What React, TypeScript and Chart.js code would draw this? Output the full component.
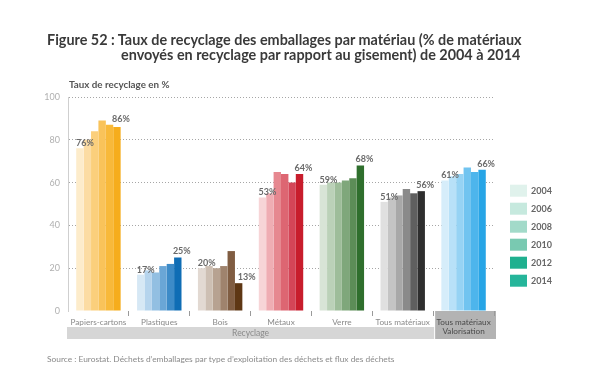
import React, { useEffect, useRef } from 'react';
import { Chart, registerables } from 'chart.js';

Chart.register(...registerables);

const categories: (string | string[])[] = [
  'Papiers-cartons',
  'Plastiques',
  'Bois',
  'Métaux',
  'Verre',
  'Tous matériaux',
  ['Tous matériaux', 'Valorisation'],
];
const years = ['2004', '2006', '2008', '2010', '2012', '2014'];
const v2004 = [76, 17, 20, 53, 59, 51, 61];
const v2006 = [80, 19, 21, 55, 60, 53, 63];
const v2008 = [84, 18, 20, 65, 60, 54, 64];
const v2010 = [89, 21, 21, 64, 61, 57, 67];
const v2012 = [87, 22, 28, 60, 62, 55, 65];
const v2014 = [86, 25, 13, 64, 68, 56, 66];
const yTicks = [0, 20, 40, 60, 80, 100];
const groupLabel = 'Recyclage';
const title1 = 'Figure 52 : Taux de recyclage des emballages par matériau (% de matériaux';
const title2 = 'envoyés en recyclage par rapport au gisement) de 2004 à 2014';
const yTitle = 'Taux de recyclage en %';
const source = "Source : Eurostat. Déchets d’emballages par type d’exploitation des déchets et flux des déchets";

const seriesValues = [v2004, v2006, v2008, v2010, v2012, v2014];

// colour ramps per category, 2004 -> 2014
const palettes = [
  ['#fdeccb', '#fcdca3', '#fbcf7c', '#f9c35a', '#f8b93a', '#f6ad1c'],
  ['#d6e8f5', '#b5d4ed', '#92bfe2', '#6aa6d6', '#3d8bc8', '#0f6db5'],
  ['#e2d9d2', '#cdbfb3', '#b7a291', '#9f836d', '#805d42', '#5e3714'],
  ['#f7d5d7', '#efadb3', '#e68890', '#dd6672', '#d44557', '#c81d2c'],
  ['#d8e4d6', '#bbd1b8', '#9ebd9a', '#7fa77b', '#5c8d57', '#2f6f2d'],
  ['#e0e0e0', '#c4c4c4', '#a8a8a8', '#8a8a8a', '#5f5f5f', '#2e2e2e'],
  ['#d6edfa', '#b8e1f8', '#96d3f4', '#71c4f0', '#4db5ec', '#27a5e6'],
];
const legendColors = ['#e0f2ec', '#c6e9de', '#a2dac9', '#79c9b1', '#1fb08f', '#25b59a'];

const FONT = 'Lato, "Open Sans", sans-serif';

const decorPlugin = {
  id: 'decor',
  beforeDraw(chart: any) {
    const { ctx, chartArea, scales } = chart;
    const x = scales.x;
    const boundary = (x.getPixelForValue(5) + x.getPixelForValue(6)) / 2;
    ctx.save();
    ctx.fillStyle = '#d6d6d6';
    ctx.fillRect(chartArea.left - 1, chartArea.bottom + 16, boundary - chartArea.left + 2, 12);
    ctx.fillStyle = '#b3b3b3';
    ctx.fillRect(boundary + 2, chartArea.bottom, chartArea.right - boundary, 28);
    ctx.fillStyle = '#8a8a8a';
    ctx.font = `8.5px ${FONT}`;
    ctx.textAlign = 'center';
    ctx.textBaseline = 'middle';
    ctx.fillText(groupLabel, (chartArea.left + boundary) / 2, chartArea.bottom + 22.5);
    ctx.restore();
  },
  afterDatasetsDraw(chart: any) {
    const { ctx } = chart;
    ctx.save();
    ctx.font = `bold 9px ${FONT}`;
    ctx.fillStyle = '#6a6a6a';
    ctx.textAlign = 'center';
    ctx.textBaseline = 'middle';
    const first = chart.getDatasetMeta(0);
    const last = chart.getDatasetMeta(5);
    const prev = chart.getDatasetMeta(4);
    categories.forEach((_, j) => {
      const b0 = first.data[j];
      ctx.fillText(`${v2004[j]}%`, b0.x + 5, b0.y - 5);
      const b5 = last.data[j];
      const bp = prev.data[j];
      if (v2012[j] > v2014[j] + 5) {
        ctx.fillText(`${v2014[j]}%`, b5.x + 8, b5.y - 6);
      } else {
        ctx.fillText(`${v2014[j]}%`, b5.x + 4, Math.min(b5.y, bp.y) - 6);
      }
    });
    ctx.restore();
  },
  afterDraw(chart: any) {
    const { ctx, chartArea } = chart;
    ctx.save();
    ctx.textBaseline = 'middle';
    ctx.textAlign = 'left';
    ctx.font = `bold 9px ${FONT}`;
    years.forEach((y, i) => {
      const cy = 190.7 + i * 18;
      ctx.fillStyle = legendColors[i];
      ctx.fillRect(chartArea.right + 16, cy - 6, 17, 12);
      ctx.fillStyle = '#666';
      ctx.fillText(y, chartArea.right + 37, cy + 0.5);
    });
    ctx.restore();
  },
};

function BarChart() {
  const ref = useRef<HTMLCanvasElement>(null);
  useEffect(() => {
    if (!ref.current) return;
    const chart = new Chart(ref.current, {
      type: 'bar',
      data: {
        labels: categories as any,
        datasets: seriesValues.map((vals, i) => ({
          label: years[i],
          data: vals,
          backgroundColor: palettes.map((p) => p[i]),
          borderWidth: 0,
          categoryPercentage: 0.73,
          barPercentage: 1.0,
        })),
      },
      options: {
        animation: false,
        responsive: false,
        devicePixelRatio: 1,
        layout: { padding: { left: 43, right: 106, top: 97, bottom: 45 } },
        plugins: {
          legend: { display: false },
          tooltip: { enabled: false },
          title: { display: false },
        },
        scales: {
          x: {
            offset: true,
            grid: {
              display: true,
              drawOnChartArea: false,
              drawTicks: true,
              tickLength: 5,
              color: (c: any) => (c.index === 0 ? 'rgba(0,0,0,0)' : '#9a9a9a'),
            },
            border: { display: false },
            ticks: {
              padding: 1,
              font: { family: FONT, size: 8.2 },
              color: (c: any) => (c.index === 6 ? '#4a4a4a' : '#8a8a8a'),
              maxRotation: 0,
              autoSkip: false,
            },
            afterFit: (s: any) => {
              s.height = 28;
            },
          },
          y: {
            min: 0,
            max: 100,
            afterBuildTicks: (s: any) => {
              s.ticks = yTicks.map((v) => ({ value: v }));
            },
            grid: {
              drawTicks: false,
              color: (c: any) => (c.tick && c.tick.value === 0 ? 'rgba(0,0,0,0)' : '#a6a6a6'),
              lineWidth: 1,
            },
            border: { display: true, color: '#cfcfcf', width: 1, dash: [1, 2] },
            ticks: {
              padding: 8,
              font: { family: FONT, size: 9 },
              color: '#b0b0b0',
            },
            afterFit: (s: any) => {
              s.width = 25;
            },
          },
        },
      },
      plugins: [decorPlugin],
    });
    return () => chart.destroy();
  }, []);
  return <canvas ref={ref} width={600} height={384} style={{ position: 'absolute', left: 0, top: 0 }} />;
}

export default function App() {
  return (
    <div
      style={{
        position: 'absolute',
        left: 0,
        top: 0,
        width: 600,
        height: 384,
        background: '#fff',
        overflow: 'hidden',
        fontFamily: FONT,
      }}
    >
      <BarChart />
      <div
        style={{
          position: 'absolute',
          left: 47,
          top: 32,
          fontWeight: 'bold',
          fontSize: 14.4,
          lineHeight: '15px',
          color: '#3a3a3a',
          whiteSpace: 'nowrap',
        }}
      >
        <div>{title1}</div>
        <div style={{ marginLeft: 74 }}>{title2}</div>
      </div>
      <div
        style={{
          position: 'absolute',
          left: 69,
          top: 78,
          fontWeight: 'bold',
          fontSize: 9.8,
          lineHeight: '12px',
          color: '#555',
          whiteSpace: 'nowrap',
        }}
      >
        {yTitle}
      </div>
      <div
        style={{
          position: 'absolute',
          left: 47,
          top: 353,
          fontSize: 8.4,
          lineHeight: '12px',
          color: '#8a8a8a',
          whiteSpace: 'nowrap',
        }}
      >
        {source}
      </div>
    </div>
  );
}
